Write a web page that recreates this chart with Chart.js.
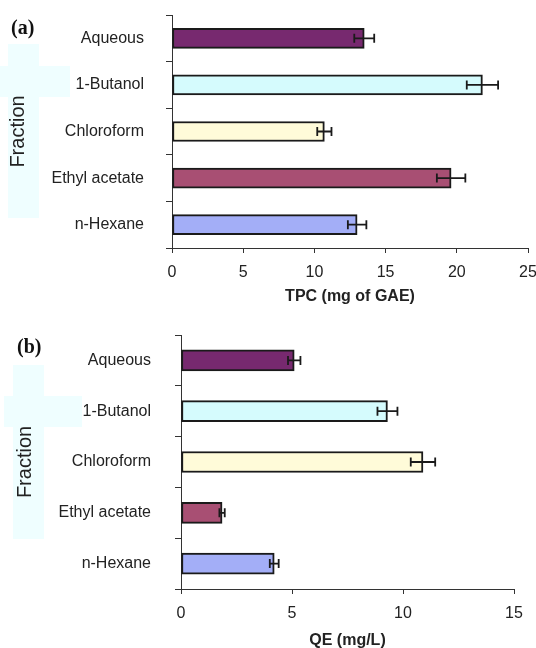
<!DOCTYPE html>
<html>
<head>
<meta charset="utf-8">
<title>TPC and QE by fraction</title>
<script src="https://cdn.jsdelivr.net/npm/chart.js@4.4.0/dist/chart.umd.min.js"></script>
<style>
    html, body { margin: 0; padding: 0; background: #fff; overflow: hidden; }
    body { width: 536px; height: 648px; position: relative; }
    .panel { position: absolute; left: 0; width: 536px; }
    .panel canvas { position: absolute; left: 0; top: 0; }
    .shade { position: absolute; background: #effeff; }
    .tag { position: absolute; font: bold 20px "Liberation Serif", "Times New Roman", serif; color: #111; }
</style>
</head>
<body>

<div class="panel" id="panelA" style="top:0; height:310px;">
    <div class="shade" style="left:8px; top:44px; width:31px; height:174px;"></div>
    <div class="shade" style="left:0; top:66px; width:70px; height:31px;"></div>
    <canvas id="tpcChart" width="536" height="310"></canvas>
    <div class="tag" style="left:11px; top:16px;">(a)</div>
</div>

<div class="panel" id="panelB" style="top:320px; height:340px;">
    <div class="shade" style="left:13px; top:45px; width:31px; height:174px;"></div>
    <div class="shade" style="left:4px; top:76px; width:78px; height:31px;"></div>
    <canvas id="qeChart" width="536" height="340"></canvas>
    <div class="tag" style="left:17px; top:15px;">(b)</div>
</div>

<script>
// Fractions (top to bottom)
const fractions = ['Aqueous', '1-Butanol', 'Chloroform', 'Ethyl acetate', 'n-Hexane'];
const barColors = ['#77296f', '#d5fbfd', '#fffbd9', '#a84f73', '#a3aef7'];

// (a) Total phenolic content
const tpcValues = [13.5, 21.8, 10.7, 19.6, 13.0];
const tpcErrors = [0.7, 1.1, 0.5, 1.0, 0.65];
const tpcTicks = { min: 0, max: 25, step: 5 };

// (b) Quercetin equivalent
const qeValues = [5.1, 9.3, 10.9, 1.85, 4.2];
const qeErrors = [0.28, 0.45, 0.55, 0.12, 0.2];
const qeTicks = { min: 0, max: 15, step: 5 };

const FONT = '"Liberation Sans", Arial, Helvetica, sans-serif';
const INK = '#1a1a1a';

// Barres d'erreur horizontales
const errorBars = {
    id: 'errorBars',
    afterDatasetsDraw(chart, args, opts) {
        const { ctx, scales: { x, y } } = chart;
        const values = chart.data.datasets[0].data;
        const cap = opts.cap || 4;
        ctx.save();
        ctx.strokeStyle = INK;
        ctx.lineWidth = 1.8;
        values.forEach((v, i) => {
            const e = opts.errors[i];
            const yc = y.getPixelForValue(i);
            const x1 = x.getPixelForValue(v - e);
            const x2 = x.getPixelForValue(v + e);
            ctx.beginPath();
            ctx.moveTo(x1, yc); ctx.lineTo(x2, yc);
            ctx.moveTo(x1, yc - cap); ctx.lineTo(x1, yc + cap);
            ctx.moveTo(x2, yc - cap); ctx.lineTo(x2, yc + cap);
            ctx.stroke();
        });
        ctx.restore();
    }
};

function makeChart(id, values, errors, ticks, xTitle, cfg) {
    const ctx = document.getElementById(id).getContext('2d');
    return new Chart(ctx, {
        type: 'bar',
        data: {
            labels: fractions,
            datasets: [{
                data: values,
                backgroundColor: barColors,
                borderColor: INK,
                borderWidth: 2,
                borderSkipped: false,
                barThickness: cfg.barThickness
            }]
        },
        options: {
            indexAxis: 'y',
            responsive: false,
            animation: false,
            layout: { padding: cfg.padding },
            plugins: {
                legend: { display: false },
                tooltip: { enabled: false },
                errorBars: { errors: errors, cap: 4.5 }
            },
            scales: {
                x: {
                    min: ticks.min,
                    max: ticks.max,
                    border: { color: '#333', width: 1 },
                    grid: { drawOnChartArea: false, color: '#333', tickLength: 5 },
                    ticks: { stepSize: ticks.step, padding: 10, color: '#222', font: { family: FONT, size: 16 } },
                    title: { display: true, text: xTitle, color: '#222', padding: 0, font: { family: FONT, size: 16, weight: 'bold' } },
                    afterFit(scale) {
                        scale.height = cfg.xHeight;
                        scale.paddingLeft = 0;
                        scale.paddingRight = 0;
                    }
                },
                y: {
                    border: { color: '#333', width: 1 },
                    grid: { drawOnChartArea: false, color: '#333', tickLength: 6 },
                    ticks: { padding: cfg.labelPad, color: '#222', font: { family: FONT, size: 16 } },
                    title: { display: true, text: 'Fraction', color: '#222', padding: { top: cfg.titlePad, bottom: 0 }, font: { family: FONT, size: 20 } },
                    afterFit(scale) {
                        scale.width = cfg.yWidth;
                        scale.paddingTop = 0;
                        scale.paddingBottom = 0;
                    }
                }
            }
        },
        plugins: [errorBars]
    });
}

document.addEventListener('DOMContentLoaded', () => {
    makeChart('tpcChart', tpcValues, tpcErrors, tpcTicks, 'TPC (mg of GAE)', {
        barThickness: 20, padding: { top: 15, right: 8, bottom: 4, left: 0 },
        xHeight: 58, yWidth: 172, labelPad: 22, titlePad: 6
    });
    makeChart('qeChart', qeValues, qeErrors, qeTicks, 'QE (mg/L)', {
        barThickness: 21, padding: { top: 15, right: 22, bottom: 10, left: 0 },
        xHeight: 61, yWidth: 181, labelPad: 24, titlePad: 13
    });
});
</script>
</body>
</html>
